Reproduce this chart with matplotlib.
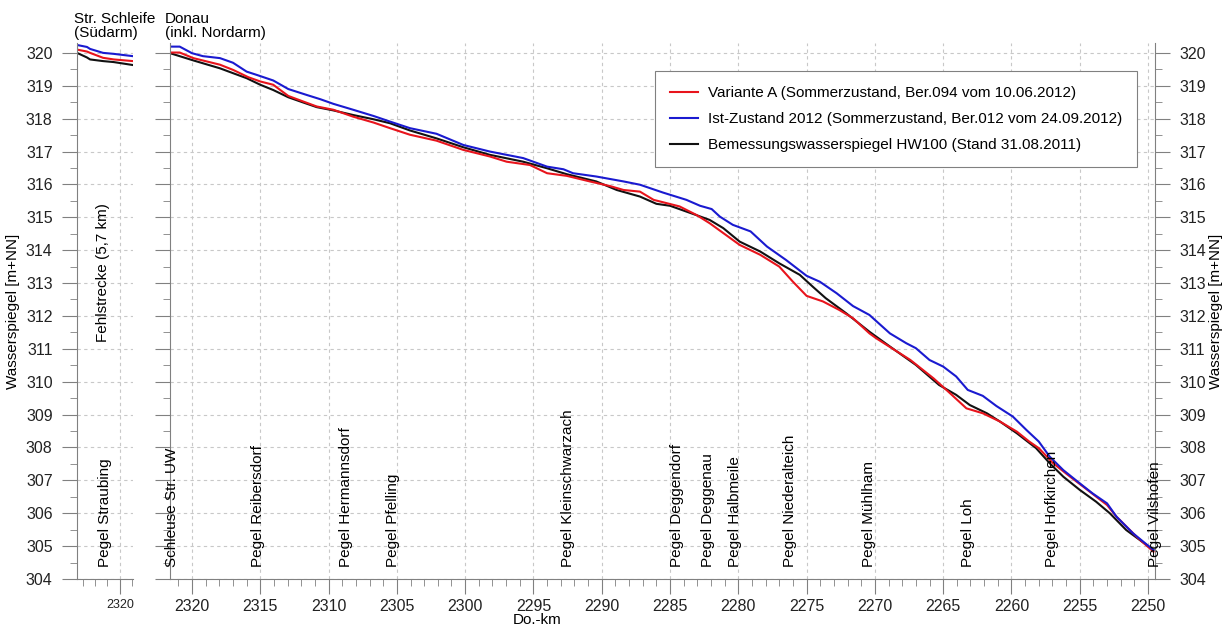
import numpy as np
import matplotlib.pyplot as plt
from matplotlib.ticker import MultipleLocator

plt.rcParams['font.family'] = ['Liberation Sans', 'DejaVu Sans']
plt.rcParams['font.size'] = 11

# Str. Schleife (Suedarm)
km_s = [2323.45, 2322.65, 2322.4, 2321.36, 2320.5, 2318.96]
blue_s = [320.24, 320.18, 320.12, 320.0, 319.97, 319.9]
red_s = [320.10, 320.04, 320.0, 319.85, 319.8, 319.75]
black_s = [320.0, 319.86, 319.8, 319.75, 319.72, 319.63]

# Donau (inkl. Nordarm) - Variante A
km_red = [2321.6, 2320.9, 2319.9, 2317.95, 2316.98, 2315.88, 2315.0, 2314.05, 2312.95,
          2311.85, 2310.87, 2309.65, 2308.2, 2306.7, 2305.5, 2304.04, 2302.1, 2300.14,
          2298.2, 2296.96, 2295.26, 2294.0, 2292.56, 2290.87, 2289.4, 2288.4, 2287.2,
          2286.2, 2284.3, 2283.06, 2282.1, 2281.1, 2279.9, 2278.4, 2277.0, 2276.0,
          2275.0, 2273.8, 2272.6, 2271.6, 2270.4, 2269.9, 2267.4, 2265.7, 2264.5,
          2263.3, 2262.1, 2260.85, 2259.6, 2258.7, 2258.0, 2256.95, 2255.7, 2254.75,
          2253.0, 2252.3, 2250.85, 2249.6]
val_red = [320.01, 320.01, 319.84, 319.64, 319.48, 319.26, 319.13, 319.03, 318.69,
           318.52, 318.37, 318.27, 318.06, 317.88, 317.71, 317.51, 317.33, 317.05,
           316.85, 316.69, 316.59, 316.34, 316.26, 316.09, 315.95, 315.83, 315.78,
           315.53, 315.33, 315.07, 314.82, 314.52, 314.16, 313.86, 313.5, 313.04,
           312.61, 312.44, 312.18, 311.93, 311.47, 311.32, 310.66, 310.1, 309.65,
           309.19, 309.04, 308.79, 308.48, 308.18, 307.98, 307.52, 307.11, 306.81,
           306.25, 305.89, 305.29, 304.83]

# Ist-Zustand 2012
km_blue = [2321.6, 2320.9, 2320.0, 2319.2, 2317.95, 2317.0, 2316.0, 2315.26, 2314.05,
           2312.95, 2311.6, 2310.6, 2309.65, 2308.2, 2306.7, 2305.5, 2304.04, 2302.1,
           2300.14, 2298.2, 2295.75, 2294.0, 2292.8, 2292.1, 2290.4, 2288.4, 2287.2,
           2285.5, 2283.8, 2282.8, 2281.95, 2281.35, 2280.4, 2279.1, 2277.9, 2276.5,
           2275.0, 2274.03, 2272.8, 2271.6, 2270.4, 2268.9, 2267.7, 2267.0, 2266.0,
           2265.0, 2264.05, 2263.2, 2262.1, 2261.1, 2259.9, 2258.9, 2258.0, 2257.2,
           2256.2, 2255.0, 2254.05, 2253.0, 2252.3, 2251.1, 2249.6]
val_blue = [320.19, 320.19, 319.99, 319.9, 319.84, 319.7, 319.43, 319.33, 319.16,
            318.9, 318.72, 318.59, 318.45, 318.27, 318.08, 317.91, 317.71, 317.54,
            317.2, 317.0, 316.8, 316.54, 316.46, 316.34, 316.24, 316.09, 315.99,
            315.75, 315.53, 315.35, 315.25, 315.02, 314.77, 314.57, 314.11, 313.7,
            313.22, 313.04, 312.69, 312.3, 312.03, 311.47, 311.17, 311.02, 310.66,
            310.46, 310.16, 309.75, 309.57, 309.26, 308.94, 308.53, 308.18, 307.72,
            307.31, 306.91, 306.6, 306.3, 305.89, 305.39, 304.88]

# Bemessungswasserspiegel HW100
km_black = [2321.6, 2319.9, 2317.95, 2316.98, 2316.0, 2315.0, 2314.05, 2312.95, 2311.85,
            2310.87, 2309.65, 2308.2, 2306.7, 2305.5, 2304.04, 2302.1, 2300.14, 2298.2,
            2295.75, 2294.0, 2292.56, 2290.4, 2288.9, 2287.2, 2286.0, 2285.0, 2283.3,
            2282.1, 2281.1, 2279.9, 2278.4, 2277.0, 2275.5, 2274.55, 2273.6, 2272.1,
            2270.4, 2268.9, 2267.0, 2265.3, 2264.05, 2263.05, 2261.8, 2260.85, 2259.6,
            2258.2, 2257.2, 2256.2, 2255.0, 2253.8, 2252.8, 2251.6, 2249.6]
val_black = [319.99, 319.77, 319.53, 319.38, 319.23, 319.03, 318.87, 318.65, 318.49,
             318.35, 318.25, 318.11, 317.98, 317.86, 317.64, 317.4, 317.13, 316.9,
             316.69, 316.49, 316.31, 316.09, 315.83, 315.63, 315.41, 315.35, 315.1,
             314.92, 314.67, 314.26, 313.96, 313.6, 313.25, 312.89, 312.54, 312.08,
             311.52, 311.07, 310.51, 309.9, 309.6, 309.29, 309.04, 308.79, 308.43,
             307.98, 307.52, 307.11, 306.71, 306.35, 306.0, 305.49, 304.88]

pegel_names = ['Schleuse Str. UW', 'Pegel Reibersdorf', 'Pegel Hermannsdorf', 'Pegel Pfelling',
               'Pegel Kleinschwarzach', 'Pegel Deggendorf', 'Pegel Deggenau', 'Pegel Halbmeile',
               'Pegel Niederalteich', 'Pegel Mühlham', 'Pegel Loh', 'Pegel Hofkirchen',
               'Pegel Vilshofen']
pegel_km = [2321.5, 2315.2, 2308.7, 2305.3, 2292.5, 2284.5, 2282.2, 2280.25,
            2276.2, 2270.4, 2263.2, 2257.0, 2249.5]

labels = ['Variante A (Sommerzustand, Ber.094 vom 10.06.2012)',
          'Ist-Zustand 2012 (Sommerzustand, Ber.012 vom 24.09.2012)',
          'Bemessungswasserspiegel HW100 (Stand 31.08.2011)']
farben = ['#e8141c', '#1a1ad0', '#111111']

W, H = 1225, 633
fig = plt.figure(figsize=(W / 100, H / 100), dpi=100)
bottom = 1 - 579 / H
height = (579 - 43) / H
ax1 = fig.add_axes([77 / W, bottom, 56 / W, height])
ax2 = fig.add_axes([170 / W, bottom, 985 / W, height])

spine_c = '#808080'
grid_kw = dict(color='#c8c8c8', linestyle=(0, (3, 3)), linewidth=0.8)

for ax in (ax1, ax2):
    ax.set_ylim(304, 320.3)
    ax.yaxis.set_major_locator(MultipleLocator(1))
    ax.yaxis.set_minor_locator(MultipleLocator(0.5))
    ax.xaxis.set_minor_locator(MultipleLocator(1))
    ax.spines['top'].set_visible(False)
    for s in ax.spines.values():
        s.set_color(spine_c)
    ax.tick_params(which='major', length=11, color=spine_c, labelcolor='#222222')
    ax.tick_params(which='minor', length=5, color=spine_c)
    ax.tick_params(axis='y', which='major', pad=6.5, labelsize=11.5)
    ax.grid(True, which='major', **grid_kw)
    ax.set_axisbelow(True)
    ax.set_facecolor('none')

# linker Teil: Str. Schleife
ax1.set_xlim(2323.45, 2318.95)
ax1.xaxis.set_major_locator(MultipleLocator(5))
ax1.spines['right'].set_visible(False)
ax1.tick_params(axis='x', which='major', labelsize=9)
ax1.plot(km_s, black_s, color=farben[2], lw=1.5)
ax1.plot(km_s, red_s, color=farben[0], lw=1.5)
ax1.plot(km_s, blue_s, color=farben[1], lw=1.5)
ax1.set_ylabel('Wasserspiegel [m+NN]', fontsize=11, labelpad=4)
ax1.text(2321.2, 304.35, 'Pegel Straubing', rotation=90, ha='center', va='bottom', fontsize=11)
ax1.text(2321.35, 311.2, 'Fehlstrecke (5,7 km)', rotation=90, ha='center', va='bottom', fontsize=11)
ax1.text(-0.05, 1.005, 'Str. Schleife\n(Südarm)', transform=ax1.transAxes, ha='left',
         va='bottom', fontsize=11, linespacing=1.0)

# Hauptteil: Donau
ax2.set_xlim(2321.61, 2249.49)
ax2.xaxis.set_major_locator(MultipleLocator(5))
ax2.tick_params(axis='x', which='major', labelsize=11.5)
ax2.tick_params(axis='y', which='both', left=True, right=True, labelleft=False,
                labelright=True)
ax2.yaxis.set_label_position('right')
ax2.set_ylabel('Wasserspiegel [m+NN]', fontsize=11, labelpad=2)

l_black, = ax2.plot(km_black, val_black, color=farben[2], lw=1.5, label=labels[2])
l_red, = ax2.plot(km_red, val_red, color=farben[0], lw=1.5, label=labels[0])
l_blue, = ax2.plot(km_blue, val_blue, color=farben[1], lw=1.5, label=labels[1])

for name, km in zip(pegel_names, pegel_km):
    ax2.text(km, 304.35, name, rotation=90, ha='center', va='bottom', fontsize=11)

ax2.text(-0.005, 1.005, 'Donau\n(inkl. Nordarm)', transform=ax2.transAxes, ha='left',
         va='bottom', fontsize=11, linespacing=1.0)

leg = ax2.legend([l_red, l_blue, l_black], labels, loc='upper left',
                 bbox_to_anchor=(655 / W, 1 - 71 / H), bbox_transform=fig.transFigure,
                 fancybox=False, edgecolor='#808080', framealpha=1, fontsize=11,
                 handlelength=1.8, handletextpad=0.65, labelspacing=0.78,
                 borderpad=1.0, borderaxespad=0)
leg.get_frame().set_linewidth(0.8)

fig.text(537 / W, 1 - 620 / H, 'Do.-km', ha='center', va='center', fontsize=11)

fig.savefig('out.png', dpi=100)
